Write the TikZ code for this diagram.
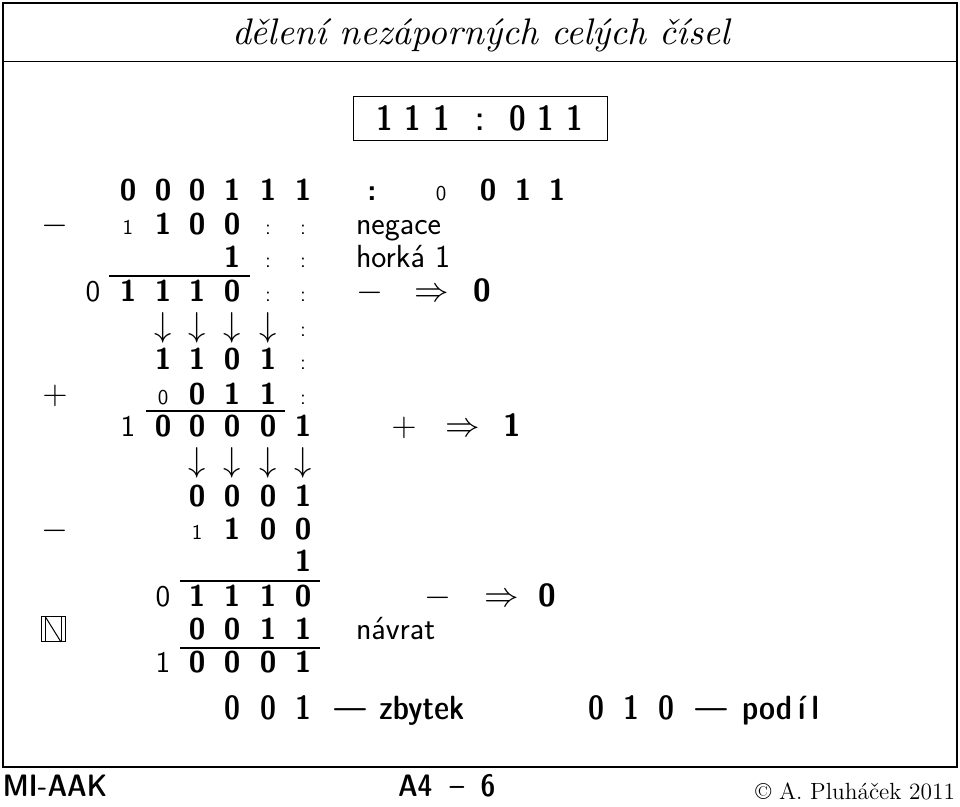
\documentclass[tikz,border=0pt]{standalone}
\begin{document}
\begin{tikzpicture}[x=0.5pt,y=-0.5pt,
 every node/.style={inner sep=0pt,outer sep=0pt},
 bd/.style={anchor=base,font=\fontsize{15}{18}\selectfont\sffamily\bfseries},
 bdv/.style={anchor=base,font=\fontsize{16}{19}\selectfont\sffamily\bfseries},
 rg/.style={anchor=base,font=\fontsize{15}{18}\selectfont\sffamily},
 sm/.style={anchor=base,font=\fontsize{10.5}{12}\selectfont\sffamily},
 tx/.style={anchor=base west,font=\fontsize{16}{19}\selectfont\sffamily},
 mth/.style={anchor=base,font=\fontsize{17}{20}\selectfont},
 arr/.style={anchor=center,font=\fontsize{16}{19}\selectfont},
 dc/.style={anchor=base,font=\fontsize{16.8}{20}\selectfont\sffamily\fontseries{sbc}\selectfont},
 ft/.style={anchor=base,font=\fontsize{15.5}{18}\selectfont\sffamily\fontseries{sbc}\selectfont},
 bx/.style={anchor=base,font=\fontsize{17.5}{21}\selectfont\sffamily\fontseries{sbc}\selectfont},
 sumline/.style={line width=0.6pt},
 frameline/.style={line width=1.1pt}]
\fill[white] (0,0) rectangle (960,807);
\useasboundingbox (0,0) rectangle (960,807);
% frame
\draw[frameline] (3,3) rectangle (957,767);
\draw[line width=0.5pt] (3,62) -- (957,62);
\node[anchor=base] (title) at (481,45) {\scalebox{1.85}{\fontsize{10}{12}\selectfont\itshape dělení nezáporných celých čísel}};
% task box
\node[draw,line width=0.6pt,minimum width=127pt,minimum height=22pt] (task) at (480.5,118.5) {};
\foreach \x/\t [count=\i] in {385/1,413/1,442/1,480/:,518/0,546/1,575/1}
  \node[bx] (t\i) at (\x,131) {\t};
% row 1
\foreach \x/\t [count=\i] in {128/0,163/0,197/0,232/1,268/1,303/1}
  \node[bd] (ra\i) at (\x,201) {\t};
\node[bd] (racol) at (372,201) {:};
\node[sm] (ras) at (441,201) {0};
\foreach \x/\t [count=\i] in {488/0,523/1,557/1}
  \node[bd] (rad\i) at (\x,201) {\t};
% row 2
\node[mth] (rbm) at (55,235) {$-$};
\node[sm] (rbs) at (128,235) {1};
\foreach \x/\t [count=\i] in {163/1,197/0,232/0}
  \node[bd] (rb\i) at (\x,235) {\t};
\node[sm] (rbc1) at (268,235) {:};
\node[sm] (rbc2) at (303,235) {:};
\node[tx] (neg) at (356,235) {negace};
% row 3
\node[bd] (rc1) at (232,268) {1};
\node[sm] (rcc1) at (268,268) {:};
\node[sm] (rcc2) at (303,268) {:};
\node[tx] (hork) at (356,268) {horká 1};
\coordinate (l1a) at (109,276);
\coordinate (l1b) at (250,276);
\draw[sumline] (l1a) -- (l1b);
% row 4
\node[rg] (rd0) at (93,302) {0};
\foreach \x/\t [count=\i] in {128/1,163/1,197/1,232/0}
  \node[bd] (rd\i) at (\x,302) {\t};
\node[sm] (rdc1) at (268,302) {:};
\node[sm] (rdc2) at (303,302) {:};
\node[mth] (rdm) at (370,302) {$-$};
\node[mth] (rdr) at (432,302) {$\Rightarrow$};
\node[bdv] (rdv) at (482,302) {0};
% row 5 arrows
\foreach \x [count=\i] in {163,197,232,268}
  \node[arr] (re\i) at (\x,328) {$\downarrow$};
\node[sm] (rec) at (303,337) {:};
% row 6
\foreach \x/\t [count=\i] in {163/1,197/1,232/0,268/1}
  \node[bd] (rf\i) at (\x,370) {\t};
\node[sm] (rfc) at (303,370) {:};
% row 7
\node[mth] (rgp) at (55,405) {$+$};
\node[sm] (rgs) at (163,405) {0};
\foreach \x/\t [count=\i] in {197/0,232/1,268/1}
  \node[bd] (rg\i) at (\x,405) {\t};
\node[sm] (rgc) at (303,405) {:};
\coordinate (l2a) at (146,411);
\coordinate (l2b) at (285,411);
\draw[sumline] (l2a) -- (l2b);
% row 8
\node[rg] (rh0) at (128,437) {1};
\foreach \x/\t [count=\i] in {163/0,197/0,232/0,268/0,303/1}
  \node[bd] (rh\i) at (\x,437) {\t};
\node[mth] (rhp) at (404,437) {$+$};
\node[mth] (rhr) at (463,437) {$\Rightarrow$};
\node[bdv] (rhv) at (512,437) {1};
% row 9 arrows
\foreach \x [count=\i] in {197,232,268,303}
  \node[arr] (ri\i) at (\x,463) {$\downarrow$};
% row 10
\foreach \x/\t [count=\i] in {197/0,232/0,268/0,303/1}
  \node[bd] (rj\i) at (\x,507) {\t};
% row 11
\node[mth] (rkm) at (55,540) {$-$};
\node[sm] (rks) at (197,540) {1};
\foreach \x/\t [count=\i] in {232/1,268/0,303/0}
  \node[bd] (rk\i) at (\x,540) {\t};
% row 12
\node[bd] (rl1) at (303,572) {1};
\coordinate (l3a) at (180,581);
\coordinate (l3b) at (320,581);
\draw[sumline] (l3a) -- (l3b);
% row 13
\node[rg] (rm0) at (163,607) {0};
\foreach \x/\t [count=\i] in {197/1,232/1,268/1,303/0}
  \node[bd] (rm\i) at (\x,607) {\t};
\node[mth] (rmm) at (438,607) {$-$};
\node[mth] (rmr) at (502,607) {$\Rightarrow$};
\node[bdv] (rmv) at (547,607) {0};
% row 14
\draw[line width=0.5pt] (41,617) rectangle (65,642);
\draw[line width=0.5pt] (45.5,617) -- (45.5,642);
\draw[line width=0.5pt] (61,617) -- (61,642);
\draw[line width=0.5pt] (45.5,617) -- (61,642);
\foreach \x/\t [count=\i] in {197/0,232/0,268/1,303/1}
  \node[bd] (rn\i) at (\x,640) {\t};
\node[tx] (navr) at (356,640) {návrat};
\coordinate (l4a) at (180,648);
\coordinate (l4b) at (320,648);
\draw[sumline] (l4a) -- (l4b);
% row 15
\node[rg] (ro0) at (163,673) {1};
\foreach \x/\t [count=\i] in {197/0,232/0,268/0,303/1}
  \node[bd] (ro\i) at (\x,673) {\t};
% result row
\foreach \x/\t [count=\i] in {232/0,268/0,303/1}
  \node[dc] (zb\i) at (\x,720) {\t};
\node[dc] (zbd) at (350,720) {—};
\node[dc,anchor=base west] (zbt) at (379,720) {zbytek};
\foreach \x/\t [count=\i] in {596/0,631/1,666/0}
  \node[dc] (pd\i) at (\x,720) {\t};
\node[dc] (pdd) at (711,720) {—};
\node[dc,anchor=base west] (pdt) at (742,720) {pod\kern3pt í\kern3pt l};
% footer
\node[ft,anchor=base west] (course) at (3,797) {MI-AAK};
\node[ft,anchor=base west] (slA) at (398,797) {A4};
\node[ft] (slD) at (457,797) {–};
\node[ft] (slN) at (488,797) {6};
\node[anchor=base east,font=\fontsize{11.7}{14}\selectfont] (copy) at (955,800) {© A. Pluháček 2011};
\end{tikzpicture}
\end{document}
